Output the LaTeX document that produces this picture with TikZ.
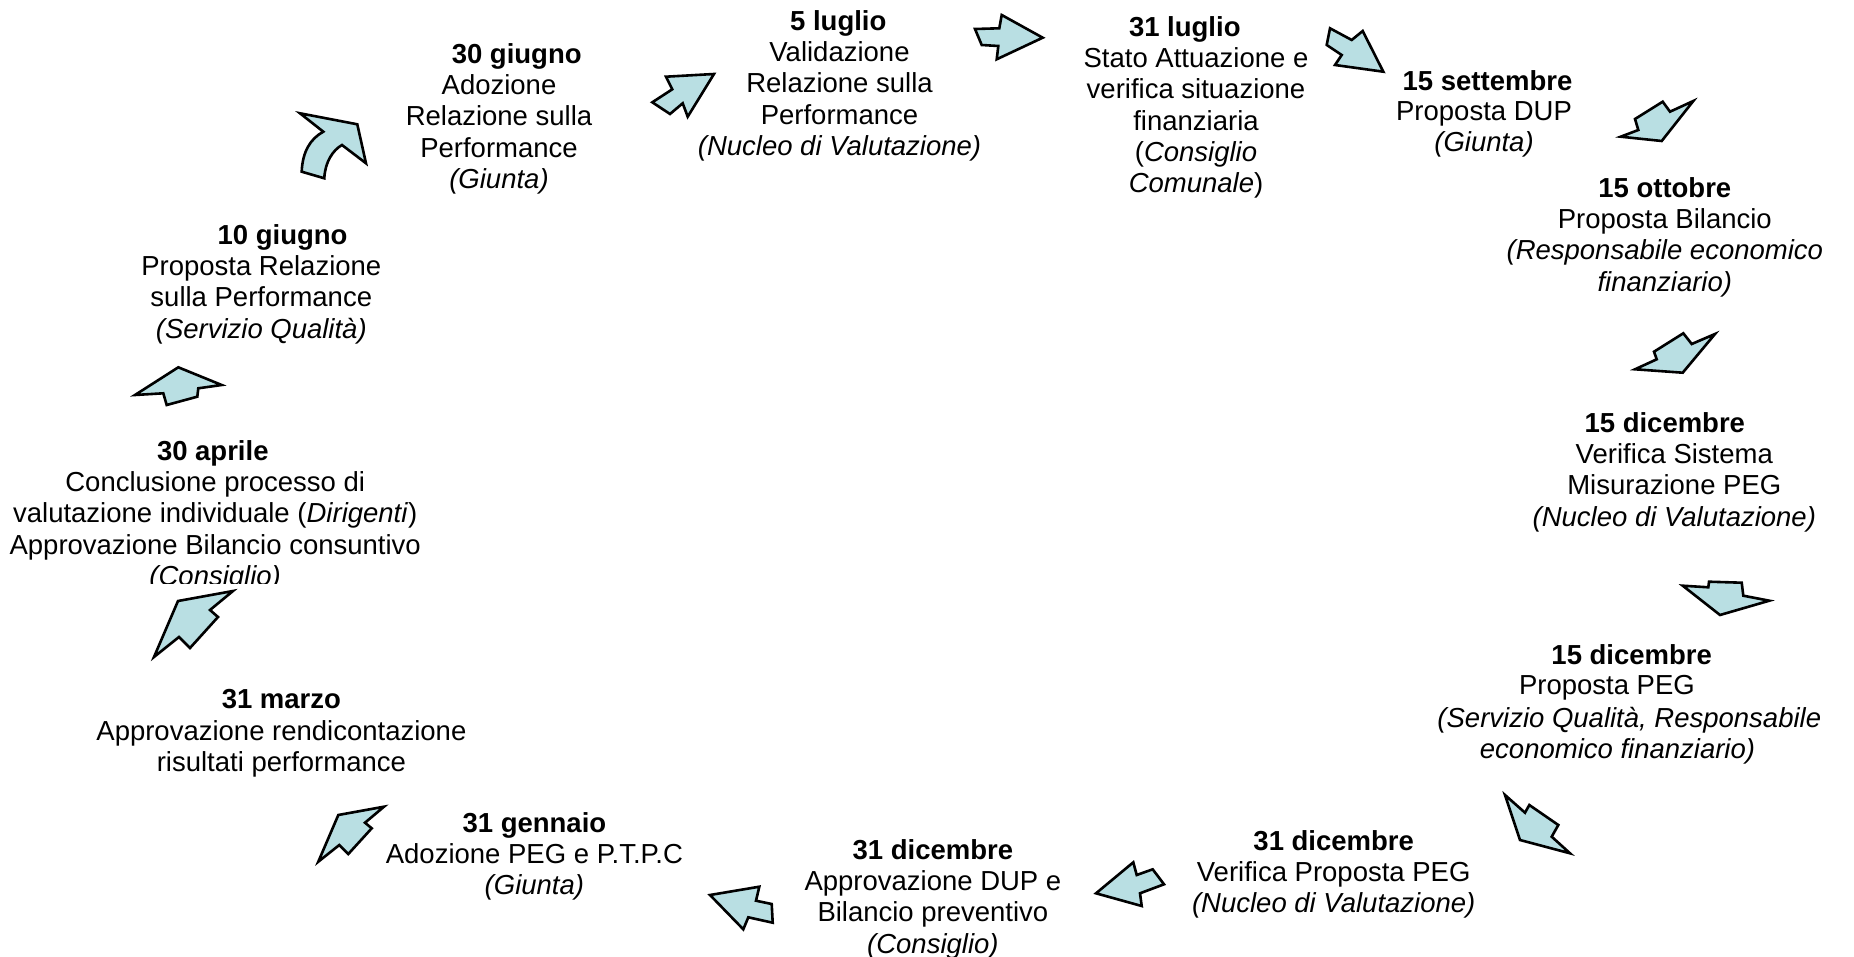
\documentclass[tikz,border=0pt]{standalone}
\usepackage{fontspec}
\setmainfont{Liberation Sans}
\definecolor{arrfill}{RGB}{185,223,227}
\begin{document}
\begin{tikzpicture}[x=1pt,y=-1pt,
  blk/.style={draw=black,fill=arrfill,line width=2.6pt,line join=miter},
  txt/.style={inner sep=0pt,anchor=north,align=center,font=\fontsize{27.5}{31.3}\selectfont},
  ttl/.style={txt,font=\fontsize{27.5}{31.3}\selectfont\bfseries}]
\useasboundingbox (0,0) rectangle (1854,957);

% ---- arrows ----
\draw[blk] (300,113.3) -- (357.3,124.3) -- (366,163.3) -- (342,145)
  .. controls (333,150) and (325,162) .. (324.3,178.3) -- (301.7,171.7)
  .. controls (302.5,152) and (310,139) .. (323.3,131.7) -- cycle;
\draw[blk] (666,76.7) -- (714,74) -- (687.7,116.7) -- (682.7,103.3) -- (670,114) -- (652.3,102.3) -- (672.3,89.3) -- cycle;
\draw[blk] (975,29) -- (999.3,28.3) -- (1001.7,15) -- (1042.7,37.7) -- (996.7,59.3) -- (998.3,46) -- (981.7,45) -- cycle;
\draw[blk] (1330,28.3) -- (1351.7,40) -- (1362.7,31) -- (1383.3,71.7) -- (1335,65) -- (1341.7,55) -- (1326.7,45) -- cycle;
\draw[blk] (1620.7,136.7) -- (1638.3,130) -- (1635,119) -- (1662.7,101.7) -- (1670,111.7) -- (1693.3,101) -- (1661.7,141) -- cycle;
\draw[blk] (1635,369.3) -- (1656.7,359.3) -- (1654,351.7) -- (1683.3,333.3) -- (1691.7,344) -- (1715,334) -- (1682.7,372.7) -- cycle;
\draw[blk] (1682.7,585.7) -- (1708.3,587.3) -- (1709,581.7) -- (1741.7,582.7) -- (1743.3,595.7) -- (1769.3,600.7) -- (1720,615) -- cycle;
\draw[blk] (1505,795) -- (1525,812.7) -- (1529.3,805) -- (1558.3,825) -- (1551.7,836.7) -- (1570,853.3) -- (1520,840) -- cycle;
\draw[blk] (1096,893.3) -- (1133.3,862.3) -- (1136.7,875) -- (1152.7,869.3) -- (1164,884.3) -- (1140,893.3) -- (1141.7,906) -- cycle;
\draw[blk] (710,895) -- (759.3,886.7) -- (756,900.7) -- (771.7,904) -- (772.7,922.7) -- (748.3,917.3) -- (743.3,929.3) -- cycle;
\draw[blk] (318.3,861.7) -- (338.3,815) -- (384,806.7) -- (365,822.7) -- (371.7,828.3) -- (348.3,854) -- (339.3,845) -- cycle;
\draw[blk] (154,657) -- (178,601) -- (233,591) -- (210,610) -- (218,617) -- (190,648) -- (179,637) -- cycle;
\draw[blk] (135,395) -- (178.3,367.3) -- (221.7,385) -- (198.3,388.3) -- (197.3,396.7) -- (166.7,405) -- (163.3,393.3) -- cycle;

% ---- texts ----
\node[ttl] (t1) at (516.7,43) {30 giugno};
\node[txt] (b1) at (499,74.3) {Adozione\\Relazione sulla\\Performance\\\textit{(Giunta)}};

\node[ttl] (t2) at (838.3,10) {5 luglio};
\node[txt] (b2) at (839.5,41.3) {Validazione\\Relazione sulla\\Performance\\\textit{(Nucleo di Valutazione)}};

\node[ttl] (t3) at (1184.8,16) {31 luglio};
\node[txt] (b3) at (1196,47.3) {Stato Attuazione e\\verifica situazione\\finanziaria\\(\textit{Consiglio}\\\textit{Comunale})};

\node[ttl] (t4) at (1487.5,70) {15 settembre};
\node[txt] (b4) at (1484,101.3) {Proposta DUP\\\textit{(Giunta)}};

\node[ttl] (t5) at (1664.8,177) {15 ottobre};
\node[txt] (b5) at (1664.8,208.3) {Proposta Bilancio\\\textit{(Responsabile economico}\\\textit{finanziario)}};

\node[ttl] (t6) at (1664.8,412) {15 dicembre};
\node[txt] (b6) at (1674.3,443.3) {Verifica Sistema\\Misurazione PEG\\\textit{(Nucleo di Valutazione)}};

\node[ttl] (t7) at (1631.7,644) {15 dicembre};
\node[txt] (b7a) at (1606.9,675.3) {Proposta PEG};
\node[txt] (b7b) at (1629.3,706.6) {\textit{(Servizio Qualità, Responsabile}};
\node[txt] (b7c) at (1617.5,737.9) {\textit{economico finanziario)}};

\node[ttl] (t8) at (1333.7,830) {31 dicembre};
\node[txt] (b8) at (1333.7,861.3) {Verifica Proposta PEG\\\textit{(Nucleo di Valutazione)}};

\node[ttl] (t9) at (932.9,839) {31 dicembre};
\node[txt] (b9) at (932.9,870.3) {Approvazione DUP e\\Bilancio preventivo\\\textit{(Consiglio)}};

\node[ttl] (t10) at (534.4,812) {31 gennaio};
\node[txt] (b10) at (534.4,843.3) {Adozione PEG e P.T.P.C\\\textit{(Giunta)}};

\node[ttl] (t11) at (281.4,689) {31 marzo};
\node[txt] (b11) at (281.4,720.3) {Approvazione rendicontazione\\risultati performance};

\node[ttl] (t12) at (212.8,440) {30 aprile};
\begin{scope}
\clip (0,400) rectangle (500,583);
\node[txt] (b12) at (215.2,471.3) {Conclusione processo di\\valutazione individuale (\textit{Dirigenti})\\Approvazione Bilancio consuntivo\\\textit{(Consiglio)}};
\end{scope}

\node[ttl] (t13) at (282.6,224) {10 giugno};
\node[txt] (b13) at (261.3,255.3) {Proposta Relazione\\sulla Performance\\\textit{(Servizio Qualità)}};
\end{tikzpicture}
\end{document}
